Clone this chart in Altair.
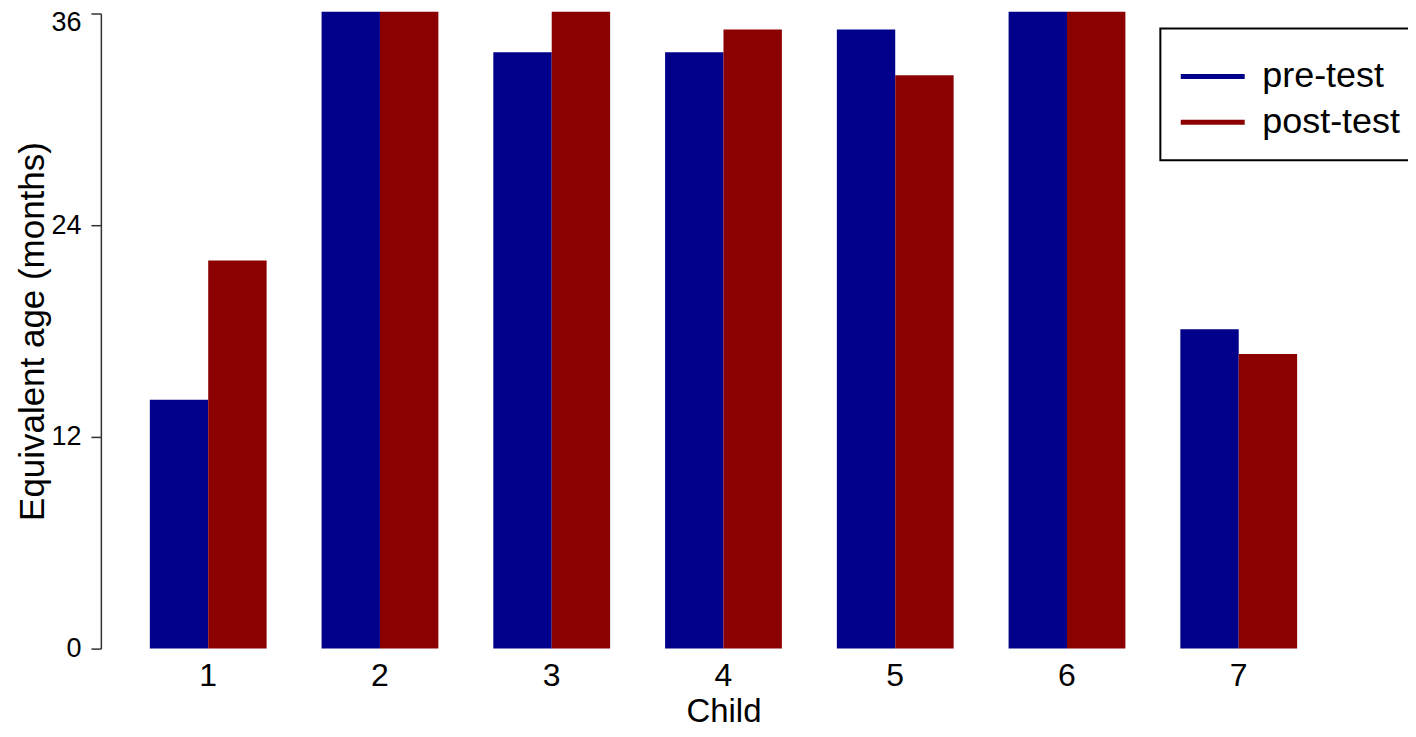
import altair as alt
import pandas as pd

children = ["1", "2", "3", "4", "5", "6", "7"]
pre_test = [14.1, 36.1, 33.8, 33.8, 35.1, 36.1, 18.1]
post_test = [22.0, 36.1, 36.1, 35.1, 32.5, 36.1, 16.7]
series = ["pre-test", "post-test"]
colors = ["#00008B", "#8B0000"]
y_ticks = [0, 12, 24, 36]

rows = []
for c, a, b in zip(children, pre_test, post_test):
    rows.append({"Child": c, "test": series[0], "value": a})
    rows.append({"Child": c, "test": series[1], "value": b})
df = pd.DataFrame(rows)

FONT = "Liberation Sans"


def make_legend():
    return alt.Legend(title=None, orient="none", legendX=1061, legendY=15,
                      symbolType="M-1.08,0L1.43,0", symbolStrokeWidth=5,
                      symbolSize=2601, labelFontSize=36, labelOffset=26,
                      padding=20, rowPadding=-12, strokeColor="black",
                      labelColor="black", labelFont=FONT)


chart = alt.Chart(df).mark_bar(strokeWidth=0).encode(
    x=alt.X("Child:N", sort=children,
            scale=alt.Scale(paddingInner=0.32, paddingOuter=0.285),
            axis=alt.Axis(title="Child", labelAngle=0, domain=False, ticks=False,
                          labelFontSize=32, labelPadding=12, titleFontSize=33,
                          titlePadding=4, titleFontWeight="normal",
                          labelColor="black", titleColor="black")),
    xOffset=alt.XOffset("test:N", sort=series,
                        scale=alt.Scale(paddingInner=0, paddingOuter=0)),
    y=alt.Y("value:Q", scale=alt.Scale(domain=[0, 36], nice=False),
            axis=alt.Axis(title="Equivalent age (months)", values=y_ticks,
                          grid=False, tickSize=10, labelFontSize=27,
                          labelPadding=10,
                          labelOffset={"condition": {"test": "datum.value == 36", "value": 9}, "value": 0},
                          titleFontSize=35, titlePadding=0,
                          titleFontWeight="normal", domainColor="#333333",
                          tickColor="#333333", domainWidth=1.5, tickWidth=1.5,
                          labelColor="black", titleColor="black")),
    color=alt.Color("test:N", sort=series,
                    scale=alt.Scale(domain=series, range=colors),
                    legend=make_legend()),
    stroke=alt.Stroke("test:N", sort=series,
                      scale=alt.Scale(domain=series, range=colors),
                      legend=make_legend()),
).properties(
    width=1247, height=636,
    autosize=alt.AutoSizeParams(type="none"),
    padding={"left": 93, "top": 5, "right": 62, "bottom": 80},
).configure(font=FONT).configure_view(strokeWidth=0).configure_legend(strokeWidth=2)

chart.save("out.html", embed_options={"renderer": "svg", "actions": False})
